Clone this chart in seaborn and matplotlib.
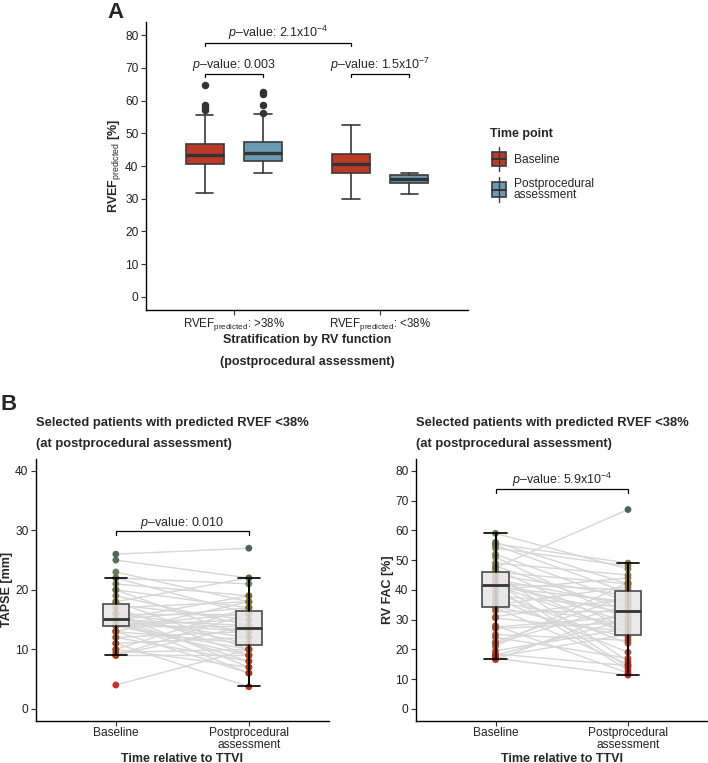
import numpy as np
import pandas as pd
import matplotlib
import matplotlib.pyplot as plt
import seaborn as sns
from matplotlib.colors import LinearSegmentedColormap
from matplotlib.patches import Rectangle
from matplotlib.lines import Line2D

# ---- data ----
# Panel A: box summaries (RVEF predicted, %)
a_groups = ["RVEF$_{\\mathrm{predicted}}$: >38%", "RVEF$_{\\mathrm{predicted}}$: <38%"]
a_base_whislo = [31.7, 30.0]
a_base_q1 = [40.5, 37.9]
a_base_med = [43.5, 40.5]
a_base_q3 = [46.6, 43.8]
a_base_whishi = [55.7, 52.4]
a_base_out = [[57.2, 58.0, 58.6, 64.7], []]
a_post_whislo = [37.9, 31.3]
a_post_q1 = [41.5, 34.8]
a_post_med = [44.1, 36.0]
a_post_q3 = [47.3, 37.3]
a_post_whishi = [55.9, 37.8]
a_post_out = [[56.2, 58.5, 62.0, 62.6], []]

# Panel B: paired patient values
time_labels = ["Baseline", "Postprocedural\nassessment"]
tapse_base = [26, 25, 23, 22, 22, 21, 20, 20, 19, 18, 18, 17.5, 17, 17, 16, 16, 16, 15.5,
              15, 15, 15, 15, 15, 15, 14.5, 14, 14, 14, 14, 14, 13, 13, 13, 12, 12, 11,
              11, 10, 10, 9.5, 9, 9, 9, 4]
tapse_post = [27, 22, 18, 21, 16, 19, 17, 12, 14, 22, 10, 15, 9, 18, 13, 7, 16, 11,
              14, 19, 8, 12, 17, 6, 13, 16, 10, 15, 9, 14, 18, 11, 6, 13, 8, 3.7,
              12, 17, 7, 10, 16, 9, 14, 10]
fac_base = [59, 56, 55.5, 55, 54, 52, 51, 49, 48, 47.5, 47, 46, 45.5, 45, 44, 43.5,
            43, 42.5, 42, 41.5, 41.5, 41, 40.5, 40, 39, 38, 37, 36, 35, 34.5, 34, 33,
            31, 30.5, 28, 27.5, 27, 25, 24, 22.5, 22, 21, 19.5, 18.5, 18, 17.5, 17, 16.5]
fac_post = [47, 42, 49, 39, 48, 36, 30, 45, 33, 67, 27, 42, 16, 38, 25, 35, 29, 14,
            40, 26, 32, 36, 13, 44, 22, 34, 19, 28, 41, 24, 15, 33, 37, 26, 12, 31,
            29, 23, 17, 38, 35, 42.5, 27, 14.5, 30, 25, 11.3, 33]
# box summaries for panel B: [baseline, post]
tapse_whislo = [9.0, 3.8]
tapse_q1 = [14.0, 10.8]
tapse_med = [15.1, 13.6]
tapse_q3 = [17.6, 16.4]
tapse_whishi = [22.0, 22.0]
fac_whislo = [16.9, 11.5]
fac_q1 = [34.2, 24.7]
fac_med = [41.7, 33.0]
fac_q3 = [46.1, 39.6]
fac_whishi = [59.2, 49.0]

# ---- style ----
sns.set_style("ticks")
plt.rcParams["font.family"] = ["Liberation Sans", "DejaVu Sans"]
plt.rcParams["mathtext.fontset"] = "custom"
plt.rcParams["mathtext.rm"] = "Liberation Sans"
plt.rcParams["mathtext.it"] = "Liberation Sans:italic"
plt.rcParams["mathtext.bf"] = "Liberation Sans:bold"

W, H = 708, 763
fig = plt.figure(figsize=(W / 100, H / 100), dpi=100)

RED = "#BE3A28"
BLUE = "#6A9BB2"
EDGE = "#3A3A3A"
TICK_FS = 8.6
LAB_FS = 9
TITLE_FS = 9.4


def style_axis(ax):
    sns.despine(ax=ax)
    for s in ["left", "bottom"]:
        ax.spines[s].set_linewidth(1.0)
        ax.spines[s].set_color("black")
    ax.tick_params(axis="both", length=3.5, width=0.8, color="#333333",
                   labelsize=TICK_FS, labelcolor="#222222", pad=2)
    ax.set_facecolor("white")


def pbracket(ax, x0, x1, y, drop, label, ty, fs=9):
    ax.plot([x0, x0, x1, x1], [y - drop, y, y, y - drop], color="black", lw=0.9,
            solid_joinstyle="miter", clip_on=False)
    ax.text((x0 + x1) / 2, ty, label, ha="center", va="center", fontsize=fs)


def fx(px):
    return px / W


def fy(py):
    return 1 - py / H


# ================= Panel A =================
axA = fig.add_axes([fx(146), fy(310), (468 - 146) / W, (310 - 22) / H])
style_axis(axA)
xpos = np.arange(len(a_groups))
off = 0.2
bw = 0.26


def stats_list(whislo, q1, med, q3, whishi, out):
    return [dict(whislo=a, q1=b, med=c, q3=d, whishi=e, fliers=f)
            for a, b, c, d, e, f in zip(whislo, q1, med, q3, whishi, out)]


for st, dx, col in [
    (stats_list(a_base_whislo, a_base_q1, a_base_med, a_base_q3, a_base_whishi, a_base_out), -off, RED),
    (stats_list(a_post_whislo, a_post_q1, a_post_med, a_post_q3, a_post_whishi, a_post_out), off, BLUE),
]:
    axA.bxp(st, positions=xpos + dx, widths=bw, patch_artist=True, showfliers=True,
            boxprops=dict(facecolor=col, edgecolor=EDGE, linewidth=1.2),
            medianprops=dict(color="#333333", linewidth=2.4),
            whiskerprops=dict(color=EDGE, linewidth=1.2),
            capprops=dict(color=EDGE, linewidth=1.2),
            capwidths=0.12,
            flierprops=dict(marker="o", markerfacecolor="#333333", markeredgecolor="#333333",
                            markersize=4.4))

axA.set_xlim(-0.6, 1.6)
axA.set_ylim(-4, 84)
axA.set_yticks(range(0, 81, 10))
axA.set_xticks(xpos)
axA.set_xticklabels(a_groups, fontsize=8.3)
axA.tick_params(axis="x", pad=0.5)
axA.set_xlabel("")
axA.set_ylabel(r"$\mathbf{RVEF}_{\mathrm{predicted}}$ [%]", fontsize=LAB_FS, fontweight="bold")
axA.yaxis.set_label_coords(-0.07, 0.5)
axA.text(0.5, (310 - 340) / 288, "Stratification by RV function", transform=axA.transAxes,
         ha="center", va="center", fontsize=LAB_FS, fontweight="bold")
axA.text(0.5, (310 - 362) / 288, "(postprocedural assessment)", transform=axA.transAxes,
         ha="center", va="center", fontsize=LAB_FS, fontweight="bold")

pbracket(axA, -0.2, 0.8, 77.7, 0.9, r"$p$–value: 2.1x10$^{-4}$", 80.8)
pbracket(axA, -0.2, 0.2, 68.1, 1.0, r"$p$–value: 0.003", 70.9)
pbracket(axA, 0.8, 1.2, 68.1, 1.0, r"$p$–value: 1.5x10$^{-7}$", 70.9)

fig.text(fx(107), fy(12), "A", fontsize=16, fontweight="bold", ha="left", va="center")

# legend
fig.text(fx(490), fy(134), "Time point", fontsize=LAB_FS, fontweight="bold", ha="left", va="center")
for (top, bot, col, lab, ly) in [(152, 166, RED, "Baseline", 160),
                                 (182, 197, BLUE, "Postprocedural\nassessment", 189.5)]:
    cx = 499
    fig.add_artist(Line2D([fx(cx), fx(cx)], [fy(top - 5), fy(bot + 5)], color=EDGE, lw=1.0))
    fig.add_artist(Rectangle((fx(492), fy(bot)), 14 / W, (bot - top) / H, facecolor=col,
                             edgecolor=EDGE, lw=1.2))
    mid = (top + bot) / 2
    fig.add_artist(Line2D([fx(492), fx(506)], [fy(mid), fy(mid)], color="#333333", lw=1.4))
    fig.text(fx(514), fy(ly), lab, fontsize=TICK_FS, ha="left", va="center", linespacing=1.0)

# ================= Panel B =================
cmap = LinearSegmentedColormap.from_list(
    "val", ["#C40A00", "#AA3A0A", "#9C5212", "#7E6A22", "#52703A", "#2F4A40"])


def paired_panel(ax, base, post, whislo, q1, med, q3, whishi, ylim, yticks, ylabel):
    style_axis(ax)
    n = len(base)
    df = pd.DataFrame({
        "patient": list(range(n)) * 2,
        "time": [0] * n + [1] * n,
        "value": list(base) + list(post),
    })
    sns.lineplot(data=df, x="time", y="value", units="patient", estimator=None,
                 color="#D6D6D6", lw=1.0, ax=ax, zorder=1)
    sns.scatterplot(data=df, x="time", y="value", hue="value", palette=cmap,
                    hue_norm=(df["value"].min(), df["value"].max()), s=24, alpha=0.85,
                    linewidth=0, legend=False, ax=ax, zorder=2)
    stats = [dict(whislo=a, q1=b, med=c, q3=d, whishi=e, fliers=[])
             for a, b, c, d, e in zip(whislo, q1, med, q3, whishi)]
    ax.bxp(stats, positions=[0, 1], widths=0.2, patch_artist=True, showfliers=False,
           boxprops=dict(facecolor=(0.9, 0.9, 0.9, 0.85), edgecolor="#4A4A4A", linewidth=1.2),
           medianprops=dict(color="#333333", linewidth=2.0),
           whiskerprops=dict(color="black", linewidth=1.2),
           capprops=dict(color="black", linewidth=1.2),
           capwidths=0.17, zorder=3)
    # errorbar whiskers run through the box too
    for i in range(2):
        ax.plot([i, i], [whislo[i], whishi[i]], color="black", lw=1.2, zorder=2.5)
    ax.set_xlim(-0.6, 1.6)
    ax.set_ylim(*ylim)
    ax.set_yticks(yticks)
    ax.set_xticks([0, 1])
    ax.set_xticklabels(time_labels, linespacing=0.95)
    ax.tick_params(axis="x", pad=1)
    ax.set_xlabel("")
    ax.set_ylabel(ylabel, fontsize=LAB_FS, fontweight="bold")
    ax.yaxis.set_label_coords(-0.077, 0.5)
    hgt = 720.7 - 459
    ax.text(0.5, (720.7 - 761.5) / hgt, "Time relative to TTVI", transform=ax.transAxes,
            ha="center", va="baseline", fontsize=LAB_FS, fontweight="bold")
    ax.text(0.0, (720.7 - 422.7) / hgt, "Selected patients with predicted RVEF <38%",
            transform=ax.transAxes, ha="left", va="center", fontsize=TITLE_FS,
            fontweight="bold")
    ax.text(0.0, (720.7 - 444) / hgt, "(at postprocedural assessment)",
            transform=ax.transAxes, ha="left", va="center", fontsize=TITLE_FS,
            fontweight="bold")


axB1 = fig.add_axes([fx(36), fy(720.7), 292.7 / W, (720.7 - 459) / H])
paired_panel(axB1, tapse_base, tapse_post, tapse_whislo, tapse_q1, tapse_med, tapse_q3,
             tapse_whishi, (-2, 42), range(0, 41, 10), "TAPSE [mm]")
pbracket(axB1, 0, 1, 29.9, 0.6, r"$p$–value: 0.010", 31.3)

axB2 = fig.add_axes([fx(416), fy(720.7), 291.5 / W, (720.7 - 459) / H])
paired_panel(axB2, fac_base, fac_post, fac_whislo, fac_q1, fac_med, fac_q3,
             fac_whishi, (-4, 84), range(0, 81, 10), "RV FAC [%]")
pbracket(axB2, 0, 1, 73.8, 1.2, r"$p$–value: 5.9x10$^{-4}$", 77.0)

fig.text(fx(1), fy(404), "B", fontsize=16, fontweight="bold", ha="left", va="center")

fig.savefig("out.png", dpi=100, facecolor="white")
